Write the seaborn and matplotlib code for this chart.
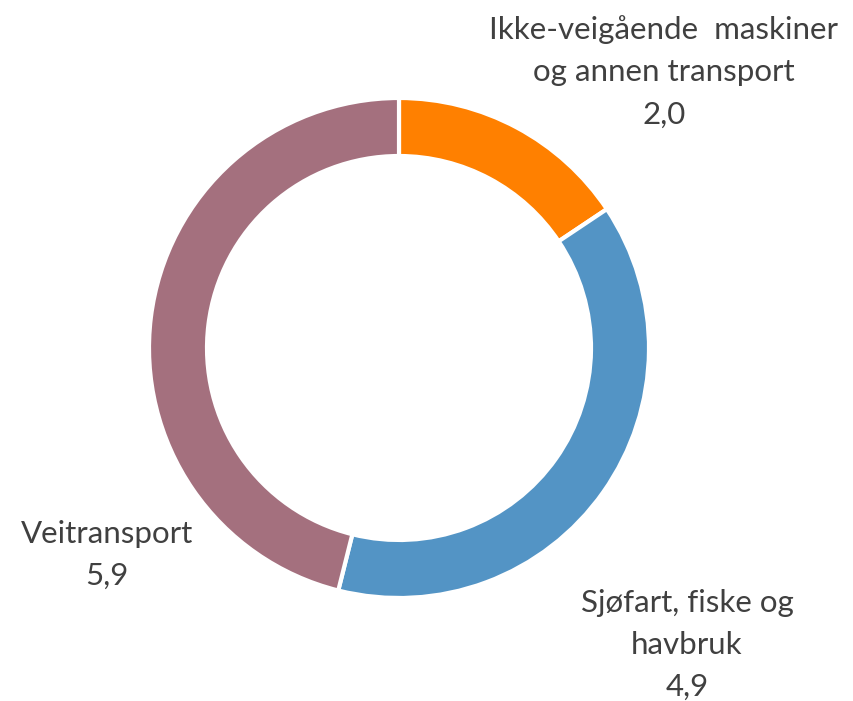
import matplotlib
matplotlib.use("Agg")
import matplotlib.pyplot as plt
import seaborn as sns

labels = ["Ikke-veigående  maskiner\nog annen transport", "Sjøfart, fiske og\nhavbruk", "Veitransport"]
values = [2.0, 4.9, 5.9]
value_labels = ["2,0", "4,9", "5,9"]
colors = ["#FF8000", "#5394C5", "#A4707E"]

sns.set_theme(style="white")
plt.rcParams['font.family'] = ['Lato', 'DejaVu Sans']

W, H = 854, 701
fig = plt.figure(figsize=(W / 100, H / 100), dpi=100)
ax = fig.add_axes([0, 0, 1, 1])

cx, cy, R = 399, H - 348, 250
ax.pie(values, colors=colors, startangle=90, counterclock=False,
       center=(cx, cy), radius=R, frame=True,
       wedgeprops=dict(width=R * 0.232, edgecolor='white', linewidth=3))
ax.set_xlim(0, W)
ax.set_ylim(0, H)
ax.set_aspect('equal')
ax.axis('off')

text_kw = dict(ha='center', va='center', color='#404040', fontsize=22.5, linespacing=1.62)
label_pos = [(664, 72), (687, 645), (107, 555)]
for (lx, ly), lab, v in zip(label_pos, labels, value_labels):
    ax.text(lx, H - ly, lab + "\n" + v, **text_kw)

fig.savefig("out.png", dpi=100)
